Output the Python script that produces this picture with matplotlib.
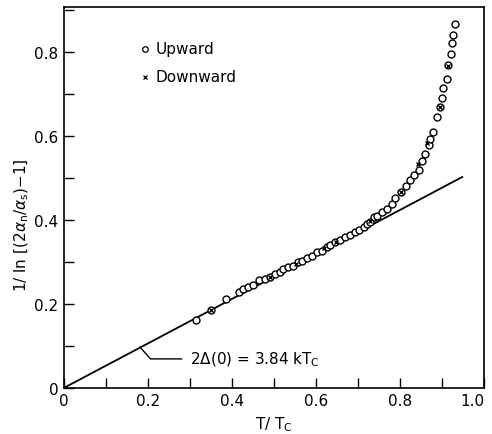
import matplotlib
matplotlib.use("Agg")
import matplotlib.pyplot as plt
from matplotlib.ticker import MultipleLocator

# upward measurements (T/Tc, 1/ln[(2a_n/a_s)-1])
up_t = [0.314, 0.349, 0.386, 0.417, 0.427, 0.439, 0.451, 0.465, 0.479, 0.490,
        0.502, 0.514, 0.522, 0.534, 0.546, 0.558, 0.566, 0.578, 0.590, 0.602,
        0.614, 0.625, 0.633, 0.645, 0.657, 0.669, 0.681, 0.693, 0.703, 0.713,
        0.721, 0.729, 0.737, 0.745, 0.756, 0.768, 0.780, 0.788, 0.802, 0.814,
        0.824, 0.832, 0.844, 0.852, 0.860, 0.868, 0.872, 0.878, 0.887, 0.894,
        0.899, 0.903, 0.911, 0.915, 0.921, 0.923, 0.925, 0.931]
up_y = [0.162, 0.186, 0.212, 0.228, 0.236, 0.240, 0.246, 0.256, 0.260, 0.264,
        0.271, 0.277, 0.282, 0.287, 0.291, 0.299, 0.301, 0.309, 0.315, 0.323,
        0.327, 0.335, 0.339, 0.347, 0.351, 0.359, 0.364, 0.371, 0.375, 0.382,
        0.390, 0.396, 0.406, 0.410, 0.418, 0.426, 0.438, 0.451, 0.466, 0.480,
        0.494, 0.506, 0.518, 0.540, 0.557, 0.577, 0.593, 0.609, 0.644, 0.668,
        0.690, 0.713, 0.736, 0.768, 0.795, 0.821, 0.841, 0.867]

# downward measurements
down_t = [0.349, 0.490, 0.552, 0.620, 0.648, 0.728, 0.802, 0.842, 0.864, 0.894, 0.915]
down_y = [0.186, 0.264, 0.294, 0.332, 0.348, 0.398, 0.466, 0.532, 0.583, 0.668, 0.766]

# BCS-like fit line
fit_t = [0.0, 0.948]
fit_y = [0.0, 0.502]

fig = plt.figure(figsize=(4.92, 4.35), dpi=100)
ax = fig.add_axes([0.130, 0.106, 0.854, 0.876])

ax.plot(fit_t, fit_y, color="black", lw=1.3)
ax.plot(up_t, up_y, linestyle="none", marker="o", markersize=5,
        markerfacecolor="white", markeredgecolor="black", markeredgewidth=1.0)
ax.plot(down_t, down_y, linestyle="none", marker="x", markersize=3.5,
        color="black", markeredgewidth=1.0)

# legend drawn by hand like the original
ax.plot([0.193], [0.807], linestyle="none", marker="o", markersize=4,
        markerfacecolor="white", markeredgecolor="black", markeredgewidth=0.9)
ax.text(0.218, 0.807, "Upward", fontsize=11, va="center")
ax.plot([0.193], [0.740], linestyle="none", marker="x", markersize=3.5,
        color="black", markeredgewidth=0.9)
ax.text(0.218, 0.740, "Downward", fontsize=11, va="center")

# annotation with leader
ax.plot([0.181, 0.206, 0.280], [0.097, 0.069, 0.069], color="black", lw=1.0)
ax.text(0.300, 0.069, r"2$\Delta$(0) = 3.84 kT$_\mathrm{C}$", fontsize=11, va="center")

ax.set_xlim(0, 1.0)
ax.set_ylim(0, 0.907)
ax.xaxis.set_minor_locator(MultipleLocator(0.1))
ax.yaxis.set_minor_locator(MultipleLocator(0.1))
ax.set_xticks([0, 0.2, 0.4, 0.6, 0.8, 1.0])
ax.set_xticklabels(["0", "0.2", "0.4", "0.6", "0.8", "1.0"])
ax.set_yticks([0, 0.2, 0.4, 0.6, 0.8])
ax.set_yticklabels(["0", "0.2", "0.4", "0.6", "0.8"])
ax.tick_params(which="both", direction="in", top=False, right=False, width=1.0)
ax.tick_params(which="major", length=7, labelsize=11, pad=4)
ax.tick_params(which="minor", length=7)
for lab in ax.get_xticklabels() + ax.get_yticklabels():
    lab.set_family(["Liberation Sans Narrow", "DejaVu Sans"])
ax.get_xticklabels()[-1].set_horizontalalignment("right")
for s in ax.spines.values():
    s.set_linewidth(1.2)

ax.set_xlabel(r"T/ T$_\mathrm{C}$", fontsize=11)
ax.set_ylabel(r"1/ ln [(2$\alpha_\mathrm{n}$/$\alpha_\mathrm{s}$)$-$1]", fontsize=11)
ax.yaxis.set_label_coords(-0.078, 0.43)
ax.xaxis.set_label_coords(0.5, -0.07)

fig.savefig("out.png", dpi=100)
